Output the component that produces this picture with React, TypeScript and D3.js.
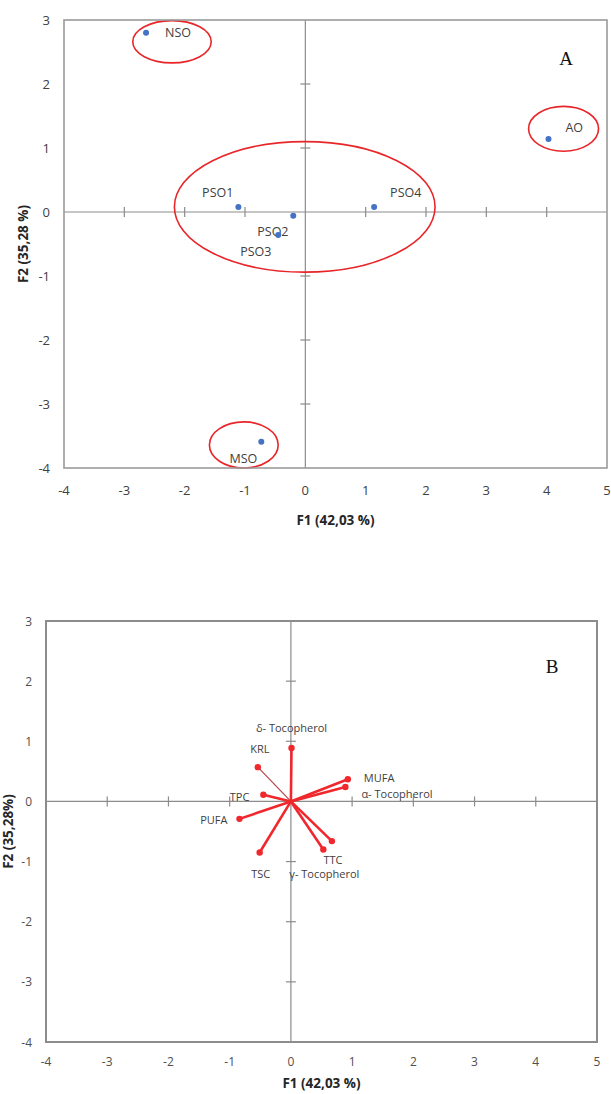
import * as d3 from "d3";
import type { ReactNode } from "react";

// shared axis ticks
const xTicks = [-4, -3, -2, -1, 0, 1, 2, 3, 4, 5];
const yTicks = [-4, -3, -2, -1, 0, 1, 2, 3];

// panel A: observations (oils)
const oilNames = ["NSO", "PSO1", "PSO2", "PSO3", "PSO4", "AO", "MSO"];
const oilF1 = [-2.64, -1.11, -0.2, -0.45, 1.14, 4.03, -0.73];
const oilF2 = [2.8, 0.08, -0.06, -0.36, 0.08, 1.14, -3.59];

// panel A: group ellipses (centre and radii in axis units)
const groupCx = [-2.21, -0.01, 4.28, -1.02];
const groupCy = [2.66, 0.08, 1.3, -3.64];
const groupRx = [0.65, 2.16, 0.58, 0.57];
const groupRy = [0.33, 1.02, 0.35, 0.36];

// panel B: variables (loadings)
const varNames = [
  "δ- Tocopherol",
  "KRL",
  "TPC",
  "PUFA",
  "TSC",
  "γ- Tocopherol",
  "TTC",
  "MUFA",
  "α- Tocopherol",
];
const varF1 = [0.01, -0.54, -0.45, -0.84, -0.51, 0.53, 0.67, 0.93, 0.89];
const varF2 = [0.89, 0.57, 0.11, -0.29, -0.85, -0.8, -0.66, 0.37, 0.24];

// label placement (pixels from the point)
const oilLabelPos: Record<string, [number, number, string]> = {
  NSO: [19, 0, "start"],
  PSO1: [-5, -14, "end"],
  PSO2: [-36, 16, "start"],
  PSO3: [-38, 16, "start"],
  PSO4: [16, -14, "start"],
  AO: [17, -12, "start"],
  MSO: [-4, 17, "end"],
};
const varLabelPos: Record<string, [number, number, string]> = {
  "δ- Tocopherol": [0, -20, "middle"],
  KRL: [2, -19, "middle"],
  TPC: [-14, 2, "end"],
  PUFA: [-12, 1, "end"],
  TSC: [1, 21, "middle"],
  "γ- Tocopherol": [1, 24, "middle"],
  TTC: [1, 18, "middle"],
  MUFA: [16, -2, "start"],
  "α- Tocopherol": [16, 7, "start"],
};

const sans = "'Open Sans', 'DejaVu Sans', sans-serif";
const serif = "'Liberation Serif', 'DejaVu Serif', serif";

type Scale = d3.ScaleLinear<number, number>;

interface FrameProps {
  x: Scale;
  y: Scale;
  tickColor: string;
  tickFont: number;
  xLabelGap: number;
  xTitle: string;
  yTitle: string;
  xTitleY: number;
  yTitleX: number;
  letter: string;
  letterPos: [number, number];
  borderColor: string;
  borderWidth: number;
  children?: ReactNode;
}

function Frame({
  x,
  y,
  tickColor,
  tickFont,
  xLabelGap,
  xTitle,
  yTitle,
  xTitleY,
  yTitleX,
  letter,
  letterPos,
  borderColor,
  borderWidth,
  children,
}: FrameProps) {
  const [x0, x1] = x.range();
  const [y1, y0] = y.range();
  const cx = x(0);
  const cy = y(0);
  const inner = (t: number, d: number[]) => t !== 0 && t !== d[0] && t !== d[d.length - 1];
  return (
    <g>
      {/* zero axes */}
      <line x1={x0} x2={x1} y1={cy} y2={cy} stroke="#8c8c8c" strokeWidth={1.2} />
      <line x1={cx} x2={cx} y1={y0} y2={y1} stroke="#8c8c8c" strokeWidth={1.2} />
      {xTicks.filter((t) => inner(t, xTicks)).map((t) => (
        <line key={`xt${t}`} x1={x(t)} x2={x(t)} y1={cy - 5} y2={cy + 5} stroke="#8c8c8c" strokeWidth={1.2} />
      ))}
      {yTicks.filter((t) => inner(t, yTicks)).map((t) => (
        <line key={`yt${t}`} x1={cx - 5} x2={cx + 5} y1={y(t)} y2={y(t)} stroke="#8c8c8c" strokeWidth={1.2} />
      ))}
      {children}
      {/* plot border */}
      <rect
        x={x0}
        y={y0}
        width={x1 - x0}
        height={y1 - y0}
        fill="none"
        stroke={borderColor}
        strokeWidth={borderWidth}
      />
      {/* tick labels */}
      {xTicks.map((t) => (
        <text
          key={`xl${t}`}
          x={x(t)}
          y={y1 + xLabelGap}
          textAnchor="middle"
          dominantBaseline="central"
          fontFamily={sans}
          fontSize={tickFont}
          fill={tickColor}
        >
          {t}
        </text>
      ))}
      {yTicks.map((t) => (
        <text
          key={`yl${t}`}
          x={x0 - 14}
          y={y(t)}
          textAnchor="end"
          dominantBaseline="central"
          fontFamily={sans}
          fontSize={tickFont}
          fill={tickColor}
        >
          {t}
        </text>
      ))}
      {/* axis titles */}
      <text
        x={(x0 + x1) / 2}
        y={xTitleY}
        textAnchor="middle"
        dominantBaseline="central"
        fontFamily={sans}
        fontWeight="bold"
        fontSize={13.5}
        fill="#262626"
      >
        {xTitle}
      </text>
      <text
        transform={`translate(${yTitleX},${(y0 + y1) / 2}) rotate(-90)`}
        textAnchor="middle"
        dominantBaseline="central"
        fontFamily={sans}
        fontWeight="bold"
        fontSize={13.5}
        fill="#262626"
      >
        {yTitle}
      </text>
      <text
        x={x1 - letterPos[0]}
        y={y0 + letterPos[1]}
        textAnchor="middle"
        dominantBaseline="central"
        fontFamily={serif}
        fontSize={19}
        fill="#111"
      >
        {letter}
      </text>
    </g>
  );
}

export default function App() {
  // panel A scales
  const xA = d3.scaleLinear().domain([-4, 5]).range([64, 607]);
  const yA = d3.scaleLinear().domain([-4, 3]).range([468, 20]);
  // panel B scales
  const xB = d3.scaleLinear().domain([-4, 5]).range([46, 597]);
  const yB = d3.scaleLinear().domain([-4, 3]).range([1042, 621]);

  const oils = oilNames.map((name, i) => ({ name, f1: oilF1[i], f2: oilF2[i] }));
  const groups = groupCx.map((c, i) => ({ cx: c, cy: groupCy[i], rx: groupRx[i], ry: groupRy[i] }));
  const vars = varNames.map((name, i) => ({ name, f1: varF1[i], f2: varF2[i] }));
  const kx = xA(1) - xA(0);
  const ky = yA(0) - yA(1);

  return (
    <svg
      width={611}
      height={1094}
      style={{ position: "absolute", left: 0, top: 0, background: "#fff" }}
    >
      <Frame
        x={xA}
        y={yA}
        tickColor="#404040"
        tickFont={13}
        xLabelGap={22}
        xTitle="F1 (42,03 %)"
        yTitle="F2 (35,28 %)"
        xTitleY={520}
        yTitleX={23}
        letter="A"
        letterPos={[41, 38]}
        borderColor="#9a9a9a"
        borderWidth={1.6}
      >
        {groups.map((g, i) => (
          <ellipse
            key={`g${i}`}
            cx={xA(g.cx)}
            cy={yA(g.cy)}
            rx={g.rx * kx}
            ry={g.ry * ky}
            fill="none"
            stroke="#e8262a"
            strokeWidth={1.6}
          />
        ))}
        {oils.map((d) => {
          const [dx, dy, anchor] = oilLabelPos[d.name];
          return (
            <g key={d.name}>
              <circle cx={xA(d.f1)} cy={yA(d.f2)} r={3} fill="#4472c4" />
              <text
                x={xA(d.f1) + dx}
                y={yA(d.f2) + dy}
                textAnchor={anchor}
                dominantBaseline="central"
                fontFamily={sans}
                fontSize={12.5}
                fill="#404040"
              >
                {d.name}
              </text>
            </g>
          );
        })}
      </Frame>

      <Frame
        x={xB}
        y={yB}
        tickColor="#505050"
        tickFont={12}
        xLabelGap={19}
        xTitle="F1 (42,03 %)"
        yTitle="F2 (35,28%)"
        xTitleY={1083}
        yTitleX={8}
        letter="B"
        letterPos={[45, 45]}
        borderColor="#8c8c8c"
        borderWidth={2}
      >
        {vars.map((d) => {
          const [dx, dy, anchor] = varLabelPos[d.name];
          return (
            <g key={d.name}>
              <line
                x1={xB(0)}
                y1={yB(0)}
                x2={xB(d.f1)}
                y2={yB(d.f2)}
                stroke={d.name === "KRL" ? "#b5454a" : "#f0282d"}
                strokeWidth={d.name === "KRL" ? 1.2 : 2.6}
              />
              <circle cx={xB(d.f1)} cy={yB(d.f2)} r={3.2} fill="#f0282d" />
              <text
                x={xB(d.f1) + dx}
                y={yB(d.f2) + dy}
                textAnchor={anchor}
                dominantBaseline="central"
                fontFamily={sans}
                fontSize={11}
                fill="#404040"
              >
                {d.name}
              </text>
            </g>
          );
        })}
      </Frame>
    </svg>
  );
}
